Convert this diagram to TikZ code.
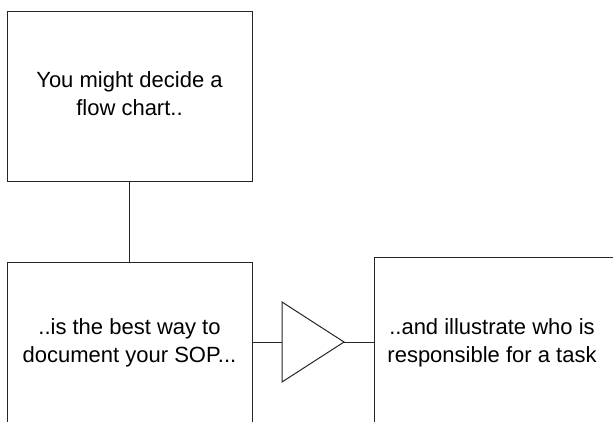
\documentclass[tikz,border=0pt]{standalone}
\usepackage{fontspec}
\setmainfont{Liberation Sans}
\begin{document}
\begin{tikzpicture}[x=1pt,y=-1pt,
  box/.style={draw=black!85, line width=1pt, inner sep=0pt},
  lbl/.style={align=center, font=\fontsize{22}{28}\selectfont, inner sep=0pt, text=black},
  wire/.style={draw=black!85, line width=1pt}]
\useasboundingbox (0,0) rectangle (613,421);
\clip (0,0) rectangle (613,421);
% boxes
\node[box, minimum width=245pt, minimum height=170pt] (top) at (129.5,96) {};
\node[box, minimum width=245pt, minimum height=160pt] (sop) at (129.5,342) {};
\node[box, minimum width=250pt, minimum height=170pt] (who) at (499,342) {};
% labels
\node[lbl] (toptext) at (129.5,94) {You might decide a\\flow chart..};
\node[lbl] (soptext) at (129.5,342.5) {..is the best way to\\document your SOP...};
\node[lbl] (whotext) at (492,342.5) {..and illustrate who is\\responsible for a task};
% triangle
\coordinate (tria) at (282,302);
\coordinate (trib) at (282,382);
\coordinate (tric) at (344,342);
\coordinate (triin) at (282,342);
\draw[wire, line join=miter] (tria) -- (tric) -- (trib) -- cycle;
% connectors
\draw[wire] (top.south) -- (sop.north);
\draw[wire] (sop.east) -- (triin);
\draw[wire] (tric) -- (who.west);
\end{tikzpicture}
\end{document}
